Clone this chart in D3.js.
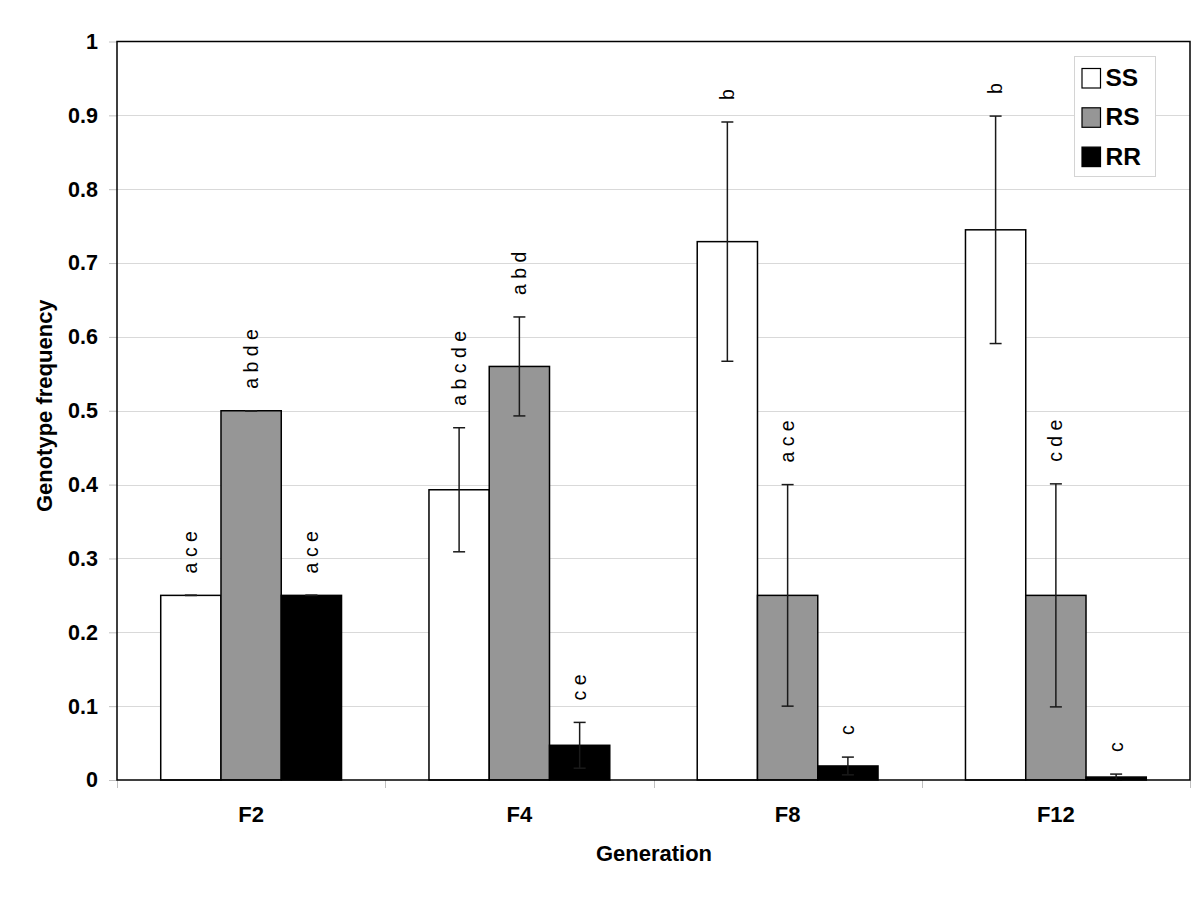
<!DOCTYPE html>
<html>
<head>
<meta charset="utf-8">
<script src="https://cdn.jsdelivr.net/npm/d3@7"></script>
<style>
  html, body { margin: 0; padding: 0; background: #fff; }
  svg { display: block; font-family: "Liberation Sans", Arial, sans-serif; }
</style>
</head>
<body>
<svg id="chart" width="1200" height="900"></svg>
<script>
// ---- data ----
const categories = ["F2", "F4", "F8", "F12"];
const seriesNames = ["SS", "RS", "RR"];
const ssValues = [0.25, 0.393, 0.729, 0.745];
const rsValues = [0.50, 0.560, 0.250, 0.250];
const rrValues = [0.25, 0.047, 0.019, 0.004];
const ssErrors = [0, 0.084, 0.162, 0.154];
const rsErrors = [0, 0.067, 0.150, 0.151];
const rrErrors = [0, 0.031, 0.012, 0.004];
const ssLabels = ["a c e", "a b c d e", "b", "b"];
const rsLabels = ["a b d e", "a b d", "a c e", "c d e"];
const rrLabels = ["a c e", "c e", "c", "c"];
const yTickValues = [0, 0.1, 0.2, 0.3, 0.4, 0.5, 0.6, 0.7, 0.8, 0.9, 1];
const yTickLabels = ["0", "0.1", "0.2", "0.3", "0.4", "0.5", "0.6", "0.7", "0.8", "0.9", "1"];
const seriesColors = ["#ffffff", "#969696", "#000000"];
const xTitle = "Generation";
const yTitle = "Genotype frequency";

const seriesValues = [ssValues, rsValues, rrValues];
const seriesErrors = [ssErrors, rsErrors, rrErrors];
const seriesLabels = [ssLabels, rsLabels, rrLabels];

// ---- layout ----
const svg = d3.select("#chart");
const plot = { left: 117, right: 1190, top: 41.5, bottom: 780 };

const x0 = d3.scaleBand().domain(categories).range([plot.left, plot.right]).padding(0);
const groupWidth = x0.bandwidth() * 0.674;
const x1 = d3.scaleBand().domain(seriesNames)
  .range([-groupWidth / 2, groupWidth / 2]).padding(0);
const y = d3.scaleLinear().domain([0, 1]).range([plot.bottom, plot.top]);

// gridlines
svg.append("g").selectAll("line")
  .data(yTickValues.filter(v => v > 0 && v < 1))
  .join("line")
  .attr("x1", plot.left).attr("x2", plot.right)
  .attr("y1", d => Math.round(y(d)) + 0.5).attr("y2", d => Math.round(y(d)) + 0.5)
  .attr("stroke", "#d9d9d9").attr("stroke-width", 1);

// y axis
const yAxis = d3.axisLeft(y).tickValues(yTickValues)
  .tickFormat((d, i) => yTickLabels[i]).tickSize(8).tickPadding(11);
const gy = svg.append("g").attr("transform", `translate(${plot.left},0)`).call(yAxis);
gy.select(".domain").remove();
gy.selectAll(".tick line").attr("stroke", "#c0c0c0");
gy.selectAll(".tick text").attr("font-size", 21.5).attr("font-weight", "bold")
  .attr("fill", "#000").attr("font-family", "'Liberation Sans', Arial, sans-serif");

// x axis labels
const xAxis = d3.axisBottom(x0).tickSize(0).tickPadding(26);
const gx = svg.append("g").attr("transform", `translate(0,${plot.bottom})`).call(xAxis);
gx.select(".domain").remove();
gx.selectAll(".tick text").attr("font-size", 22).attr("font-weight", "bold")
  .attr("fill", "#000").attr("font-family", "'Liberation Sans', Arial, sans-serif");

// category boundary ticks
const boundaries = categories.map(c => x0(c)).concat([x0(categories[categories.length - 1]) + x0.bandwidth()]);
svg.append("g").selectAll("line").data(boundaries).join("line")
  .attr("x1", d => Math.round(d) + 0.5).attr("x2", d => Math.round(d) + 0.5)
  .attr("y1", plot.bottom).attr("y2", plot.bottom + 8)
  .attr("stroke", "#c0c0c0").attr("stroke-width", 1);

// bars
const barsG = svg.append("g");
seriesNames.forEach((s, si) => {
  barsG.append("g").selectAll("rect")
    .data(categories.map((c, ci) => ({ c, v: seriesValues[si][ci] })))
    .join("rect")
    .attr("x", d => x0(d.c) + x0.bandwidth() / 2 + x1(s))
    .attr("width", x1.bandwidth())
    .attr("y", d => y(d.v))
    .attr("height", d => y(0) - y(d.v))
    .attr("fill", seriesColors[si])
    .attr("stroke", "#000").attr("stroke-width", 1.5);
});

// error bars + labels
const capHalf = 6;
const errG = svg.append("g");
const labG = svg.append("g");
seriesNames.forEach((s, si) => {
  categories.forEach((c, ci) => {
    const cx = x0(c) + x0.bandwidth() / 2 + x1(s) + x1.bandwidth() / 2;
    const v = seriesValues[si][ci];
    const e = seriesErrors[si][ci];
    const yt = y(v + e), yb = y(v - e);
    errG.append("line").attr("x1", cx).attr("x2", cx).attr("y1", yt).attr("y2", yb)
      .attr("stroke", "#1a1a1a").attr("stroke-width", 1.5);
    [yt, yb].forEach(yy => {
      errG.append("line").attr("x1", cx - capHalf).attr("x2", cx + capHalf)
        .attr("y1", yy).attr("y2", yy)
        .attr("stroke", "#1a1a1a").attr("stroke-width", 1.5);
    });
    const ly = yt - 22;
    const lx = cx + 6.5;
    labG.append("text")
      .attr("transform", `translate(${lx},${ly}) rotate(-90)`)
      .attr("text-anchor", "start")
      .attr("font-size", 19.5)
      .attr("fill", "#000")
      .text(seriesLabels[si][ci]);
  });
});

// frame
svg.append("rect")
  .attr("x", plot.left).attr("y", plot.top)
  .attr("width", plot.right - plot.left).attr("height", plot.bottom - plot.top)
  .attr("fill", "none").attr("stroke", "#000").attr("stroke-width", 1.5);

// legend
const leg = svg.append("g");
leg.append("rect").attr("x", 1074.5).attr("y", 56.5).attr("width", 81).attr("height", 120)
  .attr("fill", "#fff").attr("stroke", "#d4d4d4").attr("stroke-width", 1);
seriesNames.forEach((s, i) => {
  const yy = 68.5 + i * 39.3;
  leg.append("rect").attr("x", 1082).attr("y", yy).attr("width", 18.5).attr("height", 19.5)
    .attr("fill", seriesColors[i]).attr("stroke", "#000").attr("stroke-width", 1.2);
  leg.append("text").attr("x", 1105.5).attr("y", yy + 17.5)
    .attr("font-size", 24.5).attr("font-weight", "bold").attr("fill", "#000").text(s);
});

// axis titles
svg.append("text").attr("x", (plot.left + plot.right) / 2 + 0.5).attr("y", 861)
  .attr("text-anchor", "middle").attr("font-size", 22).attr("font-weight", "bold")
  .text(xTitle);
svg.append("text").attr("transform", `translate(52,${(plot.top + plot.bottom) / 2 - 5}) rotate(-90)`)
  .attr("text-anchor", "middle").attr("font-size", 22).attr("font-weight", "bold")
  .text(yTitle);
</script>
</body>
</html>
